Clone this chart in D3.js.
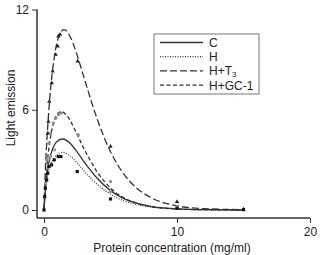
<!DOCTYPE html>
<html>
<head>
<meta charset="utf-8">
<script src="https://cdn.jsdelivr.net/npm/d3@7"></script>
<style>
  body { margin: 0; background: #fff; }
  text { font-family: "Liberation Sans", Arial, sans-serif; fill: #222; }
</style>
</head>
<body>
<div id="wrapper"></div>
<script>
// fitted curves: [protein conc, light emission]
const curveC = [[0,0],[0.1,1.2],[0.25,2.3],[0.5,3.3],[0.75,3.85],[1.0,4.12],[1.4,4.25],[2.0,3.96],[2.5,3.46],[3,2.9],[4,1.9],[5,1.16],[6,0.68],[7,0.39],[8,0.22],[10,0.07],[12,0.02],[15,0]];
const curveH = [[0,0],[0.1,1.0],[0.25,1.9],[0.5,2.7],[0.75,3.1],[1.0,3.33],[1.4,3.45],[2.0,3.21],[2.5,2.81],[3,2.35],[4,1.54],[5,0.94],[6,0.55],[7,0.32],[8,0.18],[10,0.06],[12,0.02],[15,0]];
const curveT3 = [[0,0],[0.1,2.4],[0.25,4.6],[0.5,7.3],[0.75,9.0],[1.0,10.1],[1.5,10.8],[2.0,10.32],[2.5,9.24],[3,7.94],[4,5.44],[5,3.49],[6,2.15],[7,1.29],[8,0.76],[10,0.25],[12,0.08],[15,0.02]];
const curveGC1 = [[0,0],[0.1,1.5],[0.25,2.9],[0.5,4.4],[0.75,5.3],[1.0,5.75],[1.3,5.9],[1.75,5.62],[2.5,4.51],[3,3.68],[4,2.28],[5,1.32],[6,0.73],[7,0.4],[8,0.21],[10,0.06],[12,0.02],[15,0]];

// measured points
const pointsH = [[0,0],[0.05,0.8],[0.1,1.3],[0.2,1.8],[0.28,2.2],[0.37,2.6],[0.57,2.7],[0.77,3.0],[1.07,3.2],[1.27,3.2],[2.5,2.3],[5,0.66],[10,0.1],[15,0.02]];
const pointsC = [[0.1,1.6],[0.25,2.5],[0.35,3.1],[0.5,3.2],[0.8,3.6],[5,1.1],[10,0.12],[15,0.02]];
const pointsT3 = [[0.28,4.6],[0.33,5.3],[0.4,6.5],[0.58,7.6],[0.65,8.3],[0.88,9.3],[1.03,9.8],[1.08,10.4],[1.2,10.5],[2.53,8.9],[5,3.8],[10,0.5],[15,0.05]];
const pointsGC1 = [[0.2,3.0],[0.35,4.0],[0.5,4.6],[0.7,5.2],[0.9,5.5],[1.1,5.7],[1.3,5.8],[2.58,4.5],[5,1.7],[10,0.2],[15,0.02]];

const xTicks = [0, 10, 20];
const yTicks = [0, 6, 12];
const legendLabels = ["C", "H", "H+T", "H+GC-1"];

const dimension = { width: 320, height: 255 };

const svg = d3.select("#wrapper")
    .append("svg")
    .attr("width", dimension.width)
    .attr("height", dimension.height);

const xScaler = d3.scaleLinear().domain([0, 20]).range([44, 310]);
const yScaler = d3.scaleLinear().domain([0, 12]).range([210, 9.5]);

const ink = "#333";

// detached axes
const xAxis = svg.append("g")
    .attr("transform", "translate(0,218)")
    .call(d3.axisBottom(xScaler).tickValues(xTicks).tickSize(5).tickSizeOuter(0));
xAxis.select(".domain").attr("d", `M37,0H${xScaler(20)}`);

const yAxis = svg.append("g")
    .attr("transform", "translate(37,0)")
    .call(d3.axisLeft(yScaler).tickValues(yTicks).tickSize(5).tickSizeOuter(0));
yAxis.select(".domain").attr("d", `M0,${yScaler(12)}V218`);

svg.selectAll(".domain").attr("stroke", ink).attr("stroke-width", 1.5);
svg.selectAll(".tick line").attr("stroke", ink).attr("stroke-width", 1);
svg.selectAll(".tick text").attr("font-size", "12px").attr("fill", "#222")
    .attr("font-family", "Liberation Sans, Arial, sans-serif");
xAxis.selectAll(".tick text").attr("dy", "0.85em");

// curves
const line = d3.line()
    .x(d => xScaler(d[0]))
    .y(d => yScaler(d[1]))
    .curve(d3.curveMonotoneX);

const series = [
    { curve: curveC, dash: null, width: 1.3 },
    { curve: curveH, dash: "1,1.5", width: 1.2 },
    { curve: curveT3, dash: "7,3", width: 1.3 },
    { curve: curveGC1, dash: "4,2.5", width: 1.3 }
];

series.forEach(s => {
    svg.append("path")
        .attr("d", line(s.curve))
        .attr("fill", "none")
        .attr("stroke", ink)
        .attr("stroke-width", s.width)
        .attr("stroke-dasharray", s.dash);
});

// markers
const sym = (type, size) => d3.symbol().type(type).size(size)();
function drawPoints(points, type, size, fill) {
    svg.append("g").selectAll("path")
        .data(points)
        .join("path")
        .attr("transform", d => `translate(${xScaler(d[0])},${yScaler(d[1])})`)
        .attr("d", sym(type, size))
        .attr("fill", fill);
}
drawPoints(pointsGC1, d3.symbolCircle, 8, "#888");
drawPoints(pointsC, d3.symbolSquare, 8, "#999");
drawPoints(pointsT3, d3.symbolTriangle, 8, "#222");
drawPoints(pointsH, d3.symbolSquare, 10, "#111");

// legend
const legend = svg.append("g");
legend.append("rect")
    .attr("x", 154).attr("y", 34)
    .attr("width", 105).attr("height", 60)
    .attr("fill", "#fff")
    .attr("stroke", "#777")
    .attr("stroke-width", 1);

legendLabels.forEach((label, i) => {
    const y = 42.5 + i * 14.2;
    legend.append("line")
        .attr("x1", 160).attr("x2", 203)
        .attr("y1", y).attr("y2", y)
        .attr("stroke", ink)
        .attr("stroke-width", series[i].width)
        .attr("stroke-dasharray", series[i].dash);
    const t = legend.append("text")
        .attr("x", 209).attr("y", y + 4.5)
        .attr("font-size", "12px")
        .text(label);
    if (label === "H+T") {
        // subscript as its own small text so it stays clear of the next row
        legend.append("text")
            .attr("x", 209 + t.node().getComputedTextLength())
            .attr("y", y + 6.5)
            .attr("font-size", "8px")
            .text("3");
    }
});

// axis titles
svg.append("text")
    .attr("x", 172).attr("y", 252)
    .attr("text-anchor", "middle")
    .attr("font-size", "12px")
    .text("Protein concentration (mg/ml)");

svg.append("text")
    .attr("transform", "translate(15,108) rotate(-90)")
    .attr("text-anchor", "middle")
    .attr("font-size", "12px")
    .text("Light emission");
</script>
</body>
</html>
